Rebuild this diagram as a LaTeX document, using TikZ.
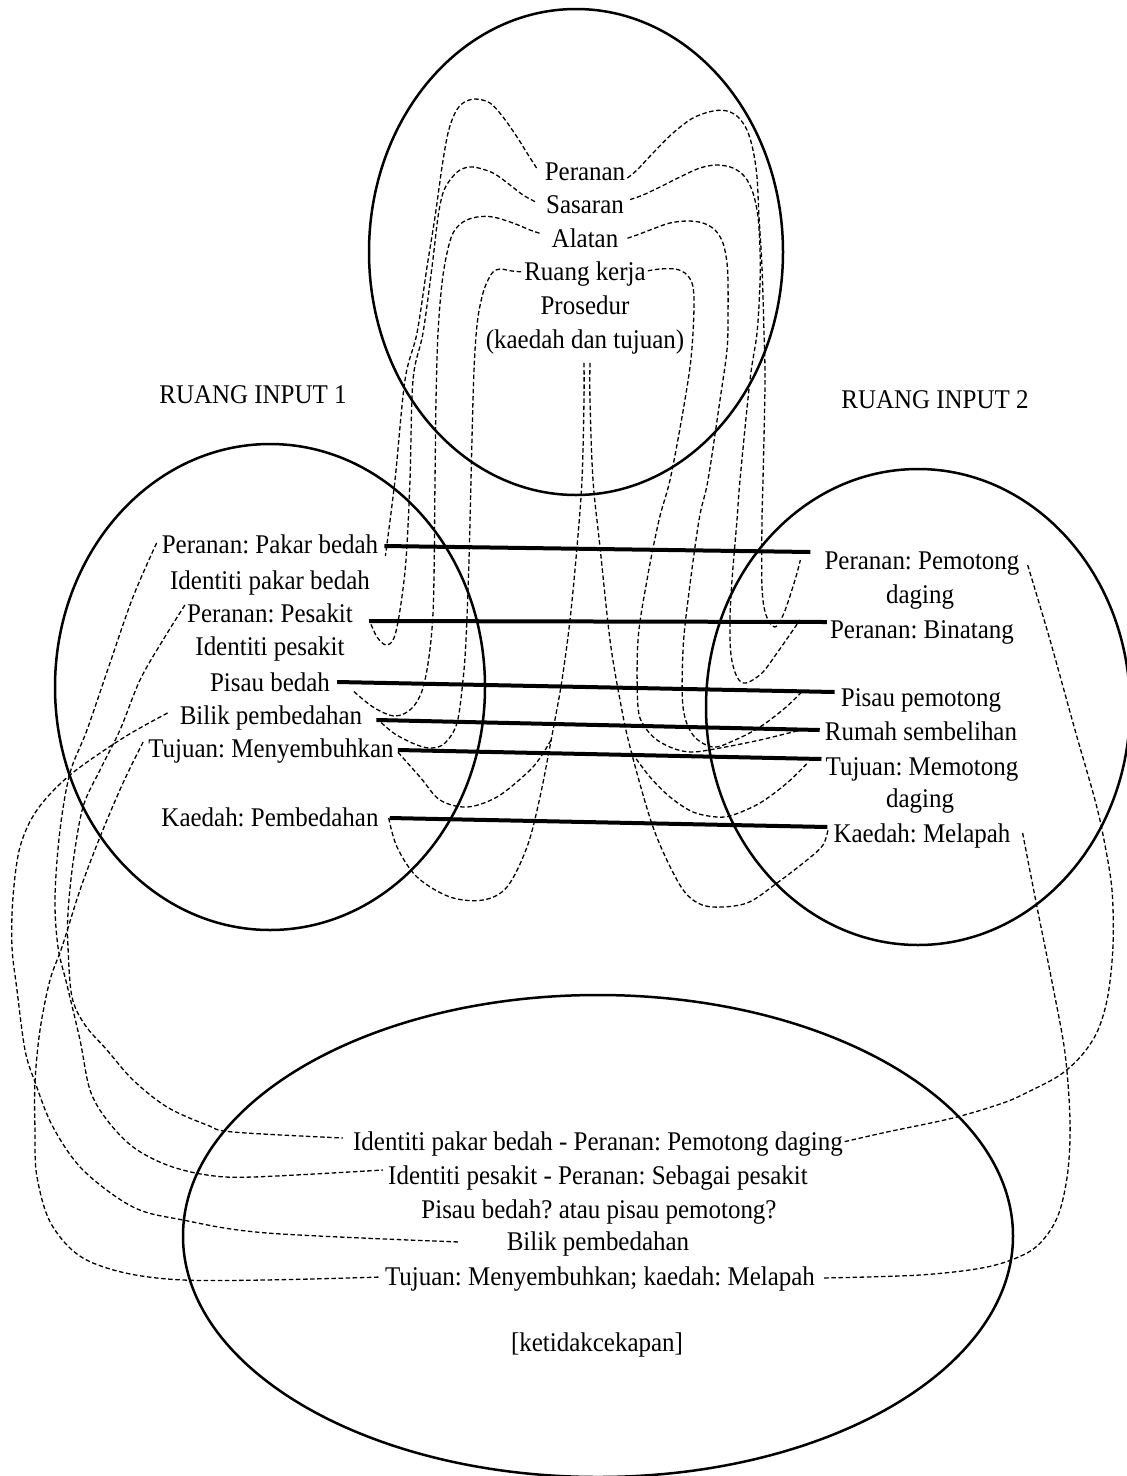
\documentclass[tikz,border=0pt]{standalone}
\usepackage{fontspec}
\setmainfont{Liberation Serif}[FakeStretch=0.925]
\usetikzlibrary{shapes.geometric}
\frenchspacing
\begin{document}
\begin{tikzpicture}[x=1pt, y=-1pt,
  space/.style={draw, ellipse, line width=2.5pt, inner sep=0pt},
  lbl/.style={anchor=base, inner sep=0pt, font=\fontsize{27}{32}\selectfont},
  link/.style={line width=4pt},
  map/.style={line width=1.3pt, dash pattern=on 4.5pt off 2.6pt, line join=round},
]
\useasboundingbox (0,0) rectangle (1127,1476);

% --- the four mental spaces ---
\node[space, minimum width=414pt, minimum height=486pt] (generic) at (576,252) {};
\node[space, minimum width=430pt, minimum height=486pt] (input1) at (270,687) {};
\node[space, minimum width=424pt, minimum height=476pt] (input2) at (918,707) {};
\node[space, minimum width=830pt, minimum height=482pt] (blend) at (598,1236) {};

% --- generic space ---
\node[lbl] (t1) at (585,180) {Peranan};
\node[lbl] (t2) at (585,213.6) {Sasaran};
\node[lbl] (t3) at (585,247.2) {Alatan};
\node[lbl] (t4) at (585,280.8) {Ruang kerja};
\node[lbl] (t5) at (585,314.4) {Prosedur};
\node[lbl] (t6) at (585,348) {(kaedah dan tujuan)};

% --- headings ---
\node[lbl] (h1) at (253,403) {RUANG INPUT 1};
\node[lbl] (h2) at (935,408) {RUANG INPUT 2};

% --- input space 1 ---
\node[lbl] (l1) at (270,553) {Peranan: Pakar bedah};
\node[lbl] (l2) at (270,589) {Identiti pakar bedah};
\node[lbl] (l3) at (270,622) {Peranan: Pesakit};
\node[lbl] (l4) at (270,655) {Identiti pesakit};
\node[lbl] (l5) at (270,691) {Pisau bedah};
\node[lbl] (l6) at (271,724) {Bilik pembedahan};
\node[lbl] (l7) at (271,757) {Tujuan: Menyembuhkan};
\node[lbl] (l8) at (270,826) {Kaedah: Pembedahan};

% --- input space 2 ---
\node[lbl] (r1) at (922,569) {Peranan: Pemotong};
\node[lbl] (r1b) at (920,603) {daging};
\node[lbl] (r2) at (922,638) {Peranan: Binatang};
\node[lbl] (r3) at (921,706) {Pisau pemotong};
\node[lbl] (r4) at (921,740) {Rumah sembelihan};
\node[lbl] (r5) at (922,775) {Tujuan: Memotong};
\node[lbl] (r5b) at (920,807) {daging};
\node[lbl] (r6) at (922,842) {Kaedah: Melapah};

% --- blended space ---
\node[lbl] (b1) at (598,1150) {Identiti pakar bedah - Peranan: Pemotong daging};
\node[lbl] (b2) at (598,1184) {Identiti pesakit - Peranan: Sebagai pesakit};
\node[lbl] (b3) at (599,1218) {Pisau bedah? atau pisau pemotong?};
\node[lbl] (b4) at (598,1250) {Bilik pembedahan};
\node[lbl] (b5) at (600,1285) {Tujuan: Menyembuhkan; kaedah: Melapah};
\node[lbl] (b6) at (597,1351) {[ketidakcekapan]};

% --- cross-space counterpart links ---
\draw[link] ([shift={(6,-7)}]l1.base east) -- ([shift={(-14,-17)}]r1.base west);
\draw[link] ([shift={(16,-1)}]l3.base east) -- ([shift={(-3,-16)}]r2.base west);
\draw[link] ([shift={(7,-9)}]l5.base east) -- ([shift={(-6,-14)}]r3.base west);
\draw[link] ([shift={(14,-4)}]l6.base east) -- ([shift={(-5,-10)}]r4.base west);
\draw[link] ([shift={(4,-7)}]l7.base east) -- ([shift={(-4,-16)}]r5.base west);
\draw[link] ([shift={(11,-8)}]l8.base east) -- ([shift={(-6,-15)}]r6.base west);

% --- end points of the projection lines ---
\coordinate (pl0) at ([shift={(-8,-12)}]t1.base west);
\coordinate (pl1) at ([shift={(7,3)}]l1.base east);
\coordinate (pp0) at ([shift={(2,-2)}]t1.base east);
\coordinate (pp1) at ([shift={(-24,-9)}]r1.base west);
\coordinate (sl0) at ([shift={(-11,-12)}]t2.base west);
\coordinate (sl1) at ([shift={(17,0)}]l3.base east);
\coordinate (sr0) at ([shift={(6,-14)}]t2.base east);
\coordinate (sr1) at ([shift={(-30,-18)}]r2.base west);
\coordinate (al0) at ([shift={(-12,-14)}]t3.base west);
\coordinate (al1) at ([shift={(22,-1)}]l5.base east);
\coordinate (ar0) at ([shift={(9,-9)}]t3.base east);
\coordinate (ar1) at ([shift={(-40,-13)}]r3.base west);
\coordinate (rl0) at ([shift={(-3,-9)}]t4.base west);
\coordinate (rl1) at ([shift={(16,-4)}]l6.base east);
\coordinate (rr0) at ([shift={(2,-10)}]t4.base east);
\coordinate (rr1) at ([shift={(-24,-10)}]r4.base west);
\coordinate (pr0) at ([shift={(-1,9)}]t6.south);
\coordinate (pr1) at ([shift={(10,-8)}]l8.base east);
\coordinate (pq0) at ([shift={(5,9)}]t6.south);
\coordinate (pq1) at ([shift={(-5,-14)}]r6.base west);
\coordinate (forkL) at (551,740);
\coordinate (tl1) at ([shift={(3,-6)}]l7.base east);
\coordinate (forkR) at (632,753);
\coordinate (tr1) at ([shift={(-17,-13)}]r5.base west);
\coordinate (lk0) at ([shift={(-5,-10)}]l1.base west);
\coordinate (lk1) at ([shift={(-5,-14)}]b2.base west);
\coordinate (lp0) at ([shift={(-2,-17)}]l3.base west);
\coordinate (lp1) at ([shift={(-10,-12)}]b1.base west);
\coordinate (lb0) at ([shift={(-12,-11)}]l6.base west);
\coordinate (lb1) at ([shift={(-47,-8)}]b4.base west);
\coordinate (lt0) at ([shift={(-5,-15)}]l7.base west);
\coordinate (lt1) at ([shift={(-4,-8)}]b5.base west);
\coordinate (rp0) at ([shift={(8,-4)}]r1.base east);
\coordinate (rp1) at ([shift={(0,-8)}]b1.base east);
\coordinate (rk0) at ([shift={(12,-9)}]r6.base east);
\coordinate (rk1) at ([shift={(7,-7)}]b5.base east);

% --- generic space to input space 1 ---
\draw[map] plot[smooth, tension=0.55] coordinates {(pl0) (527,153) (517,137) (503,117) (490,103) (475,99) (463,103) (455,113) (448,133) (442,167) (435,217) (427,267) (417,333) (405,380) (395,480) (pl1)};
\draw[map] plot[smooth, tension=0.55] coordinates {(sl0) (523,195) (510,185) (493,173) (473,167) (460,170) (450,180) (443,193) (438,217) (432,267) (423,333) (413,380) (410,480) (406,560) (400,610) (394,638) (386,645) (377,637) (sl1)};
\draw[map] plot[smooth, tension=0.55] coordinates {(al0) (530,230) (513,223) (493,217) (477,217) (463,222) (453,233) (447,253) (442,283) (438,333) (436,400) (435,480) (433,613) (425,680) (413,707) (395,716) (373,707) (al1)};
\draw[map] plot[smooth, tension=0.55] coordinates {(rl0) (512,271) (500,269) (493,272) (488,280) (483,293) (478,317) (475,350) (473,400) (471,480) (469,560) (466,640) (463,680) (457,723) (445,743) (432,748) (417,745) (395,734) (rl1)};
\draw[map] plot[smooth, tension=0.55] coordinates {(pr0) (584,400) (582,480) (577,547) (570,620) (562,680) (553,730) (540,797) (527,847) (507,887) (483,900) (450,897) (417,877) (397,847) (pr1)};
\draw[map] plot[smooth, tension=0.55] coordinates {(forkL) (540,758) (527,773) (497,797) (467,807) (440,800) (420,777) (tl1)};

% --- generic space to input space 2 ---
\draw[map] plot[smooth, tension=0.55] coordinates {(pp0) (637,170) (653,153) (673,133) (693,118) (713,111) (727,111) (738,117) (747,130) (753,150) (757,177) (759,217) (762,267) (764,333) (765,383) (763,480) (762,520) (762,587) (766,615) (775,627) (784,613) (795,580) (pp1)};
\draw[map] plot[smooth, tension=0.55] coordinates {(sr0) (643,195) (660,187) (680,177) (700,168) (717,165) (733,168) (745,177) (753,193) (758,217) (760,250) (760,283) (757,333) (750,380) (740,480) (737,520) (732,580) (730,620) (731,655) (737,677) (746,683) (762,673) (777,653) (791,633) (sr1)};
\draw[map] plot[smooth, tension=0.55] coordinates {(ar0) (637,235) (650,230) (670,223) (688,221) (703,223) (715,230) (723,243) (727,263) (728,283) (728,317) (727,350) (720,400) (708,480) (699,520) (688,600) (683,650) (683,707) (693,735) (713,747) (735,740) (760,727) (785,708) (ar1)};
\draw[map] plot[smooth, tension=0.55] coordinates {(rr0) (660,269) (675,269) (685,273) (692,283) (694,300) (693,333) (690,367) (682,417) (670,480) (659,520) (647,580) (638,640) (638,707) (645,727) (657,740) (675,749) (693,752) (720,748) (760,740) (rr1)};
\draw[map] plot[smooth, tension=0.55] coordinates {(pq0) (590,400) (593,480) (600,547) (610,640) (620,700) (630,747) (653,827) (677,880) (693,900) (713,907) (747,903) (777,883) (807,860) (823,845) (pq1)};
\draw[map] plot[smooth, tension=0.55] coordinates {(forkR) (650,777) (670,797) (693,812) (717,817) (733,815) (760,803) (787,783) (tr1)};

% --- input space 1 to blended space ---
\draw[map] plot[smooth, tension=0.55] coordinates {(lk0) (133,597) (110,663) (87,730) (70,773) (60,830) (55,897) (58,947) (67,985) (80,1040) (90,1090) (107,1120) (133,1147) (167,1165) (207,1175) (253,1177) (lk1)};
\draw[map] plot[smooth, tension=0.55] coordinates {(lp0) (163,640) (140,680) (120,730) (100,770) (83,807) (73,863) (68,913) (68,947) (72,997) (85,1025) (107,1050) (133,1080) (167,1107) (207,1125) (233,1132) (lp1)};
\draw[map] plot[smooth, tension=0.55] coordinates {(lb0) (123,738) (70,775) (37,810) (20,847) (13,897) (12,947) (17,990) (25,1050) (35,1082) (53,1127) (83,1170) (133,1207) (183,1220) (267,1233) (lb1)};
\draw[map] plot[smooth, tension=0.55] coordinates {(lt0) (123,783) (100,837) (80,890) (62,947) (50,980) (40,1030) (35,1082) (35,1130) (37,1177) (53,1227) (93,1263) (183,1280) (lt1)};

% --- input space 2 to blended space ---
\draw[map] plot[smooth, tension=0.55] coordinates {(rp0) (1050,640) (1075,730) (1095,800) (1104,840) (1112,890) (1113,945) (1108,995) (1098,1030) (1082,1055) (1060,1075) (1030,1091) (1003,1103) (953,1118) (887,1132) (rp1)};
\draw[map] plot[smooth, tension=0.55] coordinates {(rk0) (1037,907) (1053,987) (1065,1053) (1070,1120) (1068,1170) (1060,1210) (1047,1235) (1027,1253) (987,1267) (920,1275) (rk1)};
\end{tikzpicture}
\end{document}
